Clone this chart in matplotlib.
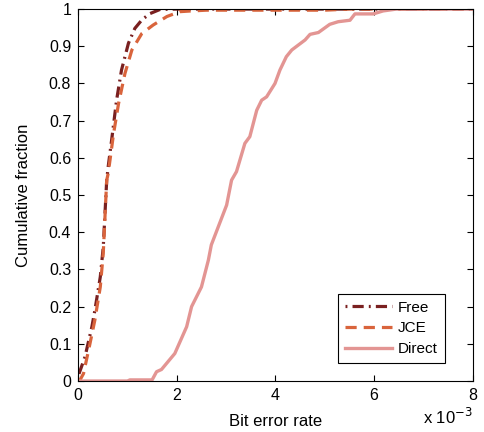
import matplotlib
matplotlib.use('Agg')
import matplotlib.pyplot as plt

plt.rcParams['font.family'] = ['Liberation Sans', 'DejaVu Sans']

# BER in units of 1e-3, cumulative fraction
free_x = [0, 0.02, 0.14, 0.28, 0.34, 0.45, 0.51, 0.58, 0.61, 0.68, 0.78, 0.88, 1.02, 1.15, 1.30, 1.46, 1.66, 2.0, 8.0]
free_y = [0, 0.02, 0.065, 0.146, 0.19, 0.28, 0.36, 0.54, 0.576, 0.648, 0.755, 0.836, 0.908, 0.948, 0.972, 0.988, 0.999, 1.0, 1.0]

jce_x = [0, 0.04, 0.11, 0.24, 0.34, 0.45, 0.51, 0.58, 0.61, 0.72, 0.82, 0.95, 1.09, 1.29, 1.52, 1.80, 2.06, 2.3, 2.6, 5.0, 5.5, 8.0]
jce_y = [0, 0.003, 0.02, 0.10, 0.164, 0.253, 0.343, 0.54, 0.558, 0.666, 0.746, 0.827, 0.89, 0.934, 0.957, 0.98, 0.993, 0.995, 0.997, 0.997, 1.0, 1.0]

direct_x = [0, 1.0, 1.05, 1.5, 1.59, 1.69, 1.96, 2.2, 2.3, 2.5, 2.64, 2.7, 3.01, 3.11, 3.21, 3.38, 3.48, 3.62, 3.72, 3.82,
            3.99, 4.09, 4.22, 4.33, 4.46, 4.6, 4.7, 4.87, 5.1, 5.27, 5.51, 5.61, 5.98, 6.18, 6.45, 8.0]
direct_y = [0, 0, 0.003, 0.003, 0.025, 0.031, 0.074, 0.146, 0.2, 0.253, 0.325, 0.366, 0.473, 0.54, 0.563, 0.639, 0.657, 0.728, 0.755, 0.764,
            0.8, 0.836, 0.872, 0.89, 0.903, 0.917, 0.932, 0.937, 0.959, 0.966, 0.97, 0.987, 0.987, 0.995, 1.0, 1.0]

x_ticks = [0, 2, 4, 6, 8]
y_ticks = [0, 0.1, 0.2, 0.3, 0.4, 0.5, 0.6, 0.7, 0.8, 0.9, 1]
y_labels = ['0', '0.1', '0.2', '0.3', '0.4', '0.5', '0.6', '0.7', '0.8', '0.9', '1']

fig = plt.figure(figsize=(4.85, 4.32), dpi=100)
ax = fig.add_axes([0.161, 0.118, 0.814, 0.861])

ax.plot(free_x, free_y, color='#7a2020', lw=2.3, linestyle=(0, (0.6, 1.6, 3.5, 1.6)), label='Free')
ax.plot(jce_x, jce_y, color='#d9643c', lw=2.3, linestyle=(0, (3.5, 2.2)), label='JCE')
ax.plot(direct_x, direct_y, color='#e39593', lw=2.4, label='Direct')

ax.set_xlim(0, 8)
ax.set_ylim(0, 1)
ax.set_xticks(x_ticks)
ax.set_yticks(y_ticks)
ax.set_yticklabels(y_labels)
ax.tick_params(direction='in', top=True, right=True, labelsize=11.5, length=4, pad=5)
ax.set_xlabel('Bit error rate', fontsize=12, labelpad=8)
ax.set_ylabel('Cumulative fraction', fontsize=12, labelpad=13)
fig.text(0.975, 0.012, 'x 10$^{-3}$', ha='right', va='bottom', fontsize=12)

leg = ax.legend(loc='lower right', bbox_to_anchor=(0.929, 0.048), borderaxespad=0, fancybox=False, framealpha=1,
                edgecolor='black', fontsize=11, handlelength=3.1, handletextpad=0.4, borderpad=0.45, labelspacing=0.45)
leg.get_frame().set_linewidth(0.8)

plt.savefig('out.png', dpi=100)
